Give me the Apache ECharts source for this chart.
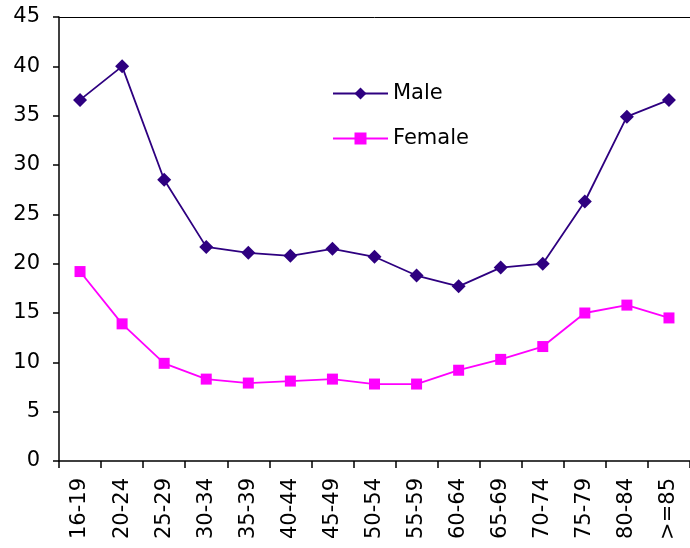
<!DOCTYPE html>
<html><head><meta charset="utf-8">
<script src="https://cdn.jsdelivr.net/npm/echarts@6/dist/echarts.min.js"></script>
<style>html,body{margin:0;padding:0;background:#fff}#c{width:690px;height:548px}</style>
</head><body><div id="c"></div>
<script>
var categories = ['16-19','20-24','25-29','30-34','35-39','40-44','45-49','50-54','55-59','60-64','65-69','70-74','75-79','80-84','>=85'];
var male = [36.6, 40.0, 28.5, 21.7, 21.1, 20.8, 21.5, 20.7, 18.8, 17.7, 19.6, 20.0, 26.3, 34.9, 36.6];
var female = [19.2, 13.9, 9.9, 8.3, 7.9, 8.1, 8.3, 7.8, 7.8, 9.2, 10.3, 11.6, 15.0, 15.8, 14.5];
var yTicks = [0, 5, 10, 15, 20, 25, 30, 35, 40, 45];

var font = 'DejaVu Sans, Verdana, sans-serif';
var chart = echarts.init(document.getElementById('c'));
chart.setOption({
  animation: false,
  backgroundColor: '#fff',
  grid: {left: 59, top: 17, width: 639, height: 444},
  legend: {
    orient: 'vertical', left: 327, top: 78, itemGap: 24, itemWidth: 55, itemHeight: 15,
    textStyle: {fontFamily: font, fontSize: 21, color: '#000'},
    data: ['Male', 'Female']
  },
  xAxis: [{
    type: 'category', data: categories, boundaryGap: true,
    axisLine: {lineStyle: {color: '#000', width: 1.5}},
    axisTick: {show: true, alignWithLabel: false, length: 7, lineStyle: {color: '#000', width: 1.5}},
    axisLabel: {rotate: 90, fontFamily: font, fontSize: 21, color: '#000', margin: 17, interval: 0}
  }, {
    type: 'category', data: categories, position: 'top',
    axisLine: {show: true, lineStyle: {color: '#000', width: 1}},
    axisTick: {show: false}, axisLabel: {show: false}
  }],
  yAxis: {
    type: 'value', min: yTicks[0], max: yTicks[yTicks.length - 1], interval: 5,
    axisLine: {show: true, lineStyle: {color: '#000', width: 1.5}},
    axisTick: {show: true, length: 6, lineStyle: {color: '#000', width: 1.5}},
    axisLabel: {fontFamily: font, fontSize: 21, color: '#000', margin: 19},
    splitLine: {show: false}
  },
  series: [{
    name: 'Male', type: 'line', data: male, symbol: 'diamond', symbolSize: 14,
    lineStyle: {color: '#2E0080', width: 1.8}, itemStyle: {color: '#2E0080'}
  }, {
    name: 'Female', type: 'line', data: female, symbol: 'rect', symbolSize: 11,
    lineStyle: {color: '#FF00FF', width: 1.8}, itemStyle: {color: '#FF00FF'}
  }]
});
</script></body></html>
